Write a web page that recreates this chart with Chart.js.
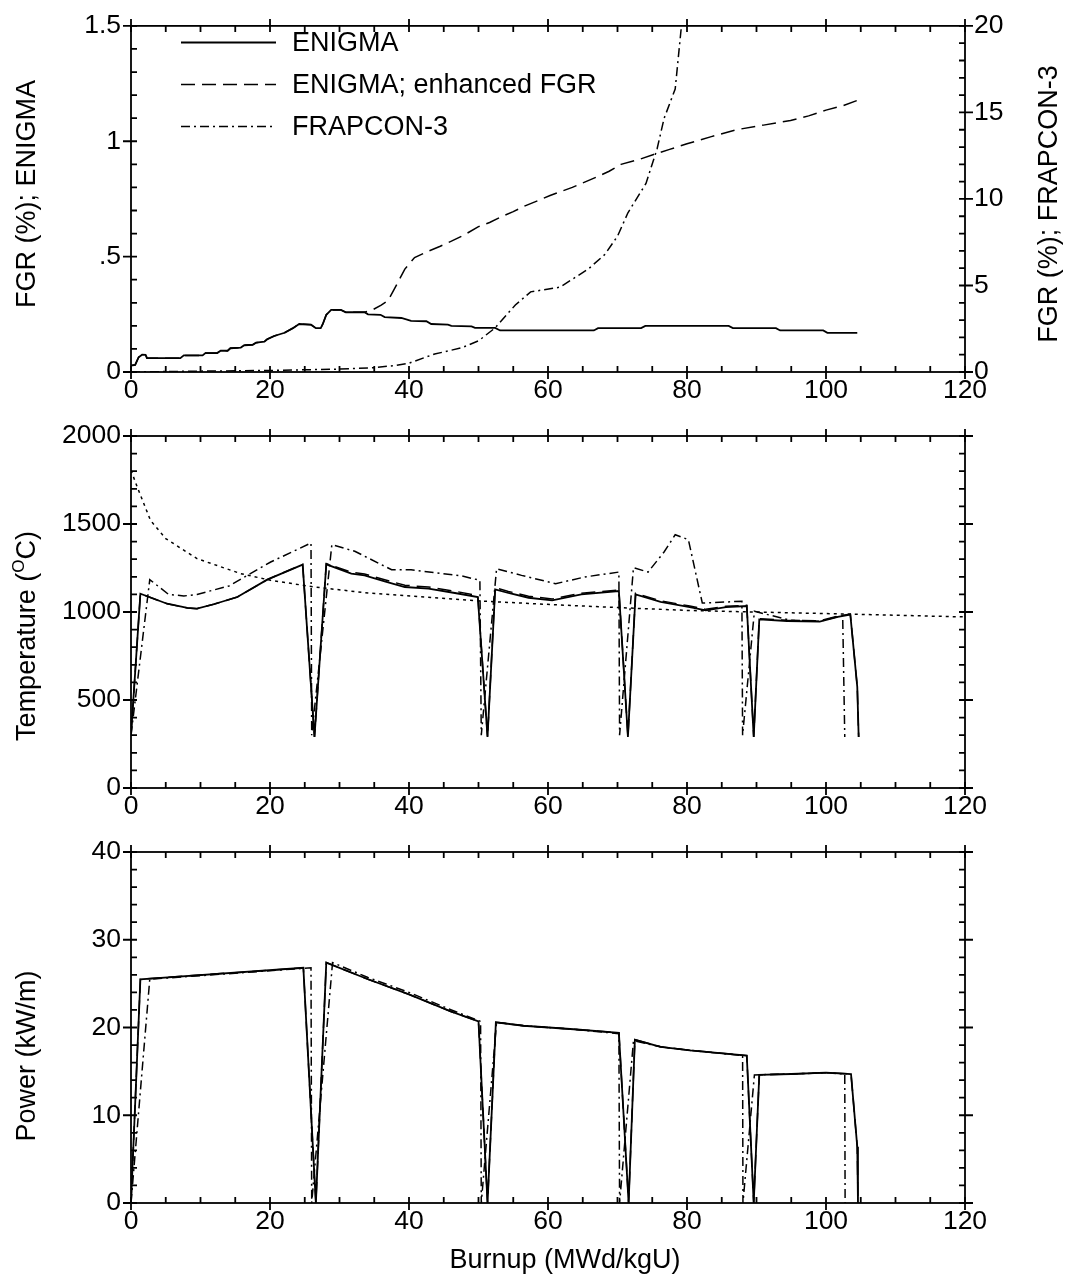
<!DOCTYPE html>
<html>
<head>
<meta charset="utf-8">
<script src="https://cdn.jsdelivr.net/npm/chart.js@4.4.0/dist/chart.umd.min.js"></script>
<style>
  html, body { margin: 0; padding: 0; background: #fff; }
  #page { position: relative; width: 1066px; height: 1277px; }
  .panel { position: absolute; left: 0; width: 1066px; }
</style>
</head>
<body>
<div id="page">
  <div class="panel" style="top:0;height:410px"><canvas id="fgr"></canvas></div>
  <div class="panel" style="top:410px;height:410px"><canvas id="temp"></canvas></div>
  <div class="panel" style="top:820px;height:457px"><canvas id="power"></canvas></div>
</div>
<script>
// ---------- data (burnup MWd/kgU, value) ----------
const fgrLeftTickValues = [0, 0.5, 1, 1.5];
const fgrLeftTickLabels = ['0', '.5', '1', '1.5'];

// FGR (%) ENIGMA, left axis
const fgrEnigma = [
  [0, 0.028], [0.6, 0.031], [1.1, 0.064], [1.6, 0.075], [2.1, 0.074], [2.3, 0.06], [7.1, 0.06],
  [7.6, 0.072], [10.3, 0.072], [10.7, 0.082], [12.4, 0.082], [12.9, 0.092], [13.9, 0.092],
  [14.3, 0.103], [15.8, 0.106], [16.3, 0.116], [17.5, 0.118], [18, 0.127], [19.2, 0.132],
  [19.6, 0.142], [20.6, 0.156], [22.1, 0.17], [23.3, 0.19], [24.2, 0.208], [25.9, 0.205],
  [26.6, 0.19], [27.3, 0.19], [27.6, 0.208], [28.1, 0.248], [28.8, 0.269], [30.2, 0.269],
  [30.9, 0.259], [33.6, 0.259], [34.1, 0.25], [35.9, 0.248], [36.5, 0.238], [38.9, 0.234],
  [40.3, 0.222], [42.5, 0.22], [43.2, 0.208], [45.6, 0.205], [46.1, 0.2], [49, 0.198],
  [49.5, 0.191], [52.4, 0.191], [53.1, 0.18], [66.6, 0.18], [67.2, 0.19], [73.4, 0.19],
  [74, 0.2], [86, 0.2], [86.6, 0.19], [92.8, 0.19], [93.4, 0.18], [99.6, 0.18], [100.2, 0.17],
  [104.5, 0.17],
];
// FGR (%) ENIGMA with enhanced FGR, left axis
const fgrEnhanced = [
  [0, 0.028], [0.6, 0.031], [1.1, 0.064], [1.6, 0.075], [2.1, 0.074], [2.3, 0.06], [7.1, 0.06],
  [7.6, 0.072], [10.3, 0.072], [10.7, 0.082], [12.4, 0.082], [12.9, 0.092], [13.9, 0.092],
  [14.3, 0.103], [15.8, 0.106], [16.3, 0.116], [17.5, 0.118], [18, 0.127], [19.2, 0.132],
  [19.6, 0.142], [20.6, 0.156], [22.1, 0.17], [23.3, 0.19], [24.2, 0.208], [25.9, 0.205],
  [26.6, 0.19], [27.3, 0.19], [27.6, 0.208], [28.1, 0.248], [28.8, 0.269], [30.2, 0.269],
  [30.9, 0.259], [33.6, 0.259], [34.8, 0.27], [36, 0.29], [37, 0.31], [37.9, 0.36],
  [39.4, 0.446], [40.8, 0.496], [42.8, 0.524], [44.5, 0.545], [46.1, 0.567], [48, 0.595],
  [50, 0.63], [51.6, 0.648], [53.3, 0.673], [55, 0.695], [56.7, 0.72], [58.5, 0.742],
  [60.3, 0.765], [63.5, 0.8], [66.9, 0.844], [68.8, 0.87], [70.5, 0.9], [73, 0.92],
  [75.2, 0.943], [77.5, 0.965], [80, 0.989], [83.5, 1.02], [87.1, 1.05], [91, 1.07],
  [94.9, 1.09], [97.5, 1.11], [100, 1.135], [102.5, 1.155], [104.5, 1.177],
];
// FGR (%) FRAPCON-3, right axis
const fgrFrapcon = [
  [0, 0], [10, 0.05], [20, 0.09], [29.3, 0.16], [35, 0.25], [38, 0.38], [40, 0.51],
  [43.7, 1.04], [47.6, 1.4], [50, 1.8], [52.4, 2.55], [55.3, 3.87], [57.5, 4.63],
  [61.7, 4.9], [65.8, 5.95], [68.2, 6.8], [70, 7.85], [71.5, 9.2], [74.1, 10.9],
  [75.7, 12.9], [76.7, 14.65], [78.3, 16.35], [79.2, 20],
];

// centre temperature (°C)
const tempEnigma = [
  [0, 300], [1.35, 1104], [5.2, 1047], [8.1, 1023], [9.5, 1019], [11.9, 1044], [15.3, 1085],
  [19.6, 1184], [24.7, 1269], [26.4, 290], [28.1, 1271], [31.7, 1218], [33.6, 1208],
  [36.5, 1174], [39.4, 1142], [42.8, 1133], [46.6, 1108], [49.9, 1085], [51.3, 290],
  [52.4, 1129], [54.3, 1108], [57.2, 1081], [60.6, 1066], [64.8, 1100], [70.2, 1119],
  [71.5, 290], [72.6, 1100], [76.2, 1057], [80.4, 1028], [82.7, 1009], [85.6, 1028],
  [88.6, 1034], [89.6, 290], [90.4, 958], [94.4, 949], [99.1, 945], [101.7, 972],
  [103.5, 985], [104.5, 574], [104.7, 290],
];
const tempEnhanced = [
  [0, 300], [1.35, 1104], [5.2, 1047], [8.1, 1023], [9.5, 1019], [11.9, 1044], [15.3, 1085],
  [19.6, 1184], [24.7, 1270], [26.4, 290], [28.1, 1275], [31.7, 1226], [33.6, 1216],
  [36.5, 1183], [39.4, 1152], [42.8, 1142], [46.6, 1118], [49.9, 1093], [51.3, 290],
  [52.4, 1138], [54.3, 1117], [57.2, 1090], [60.6, 1074], [64.8, 1107], [70.2, 1125],
  [71.5, 290], [72.6, 1106], [76.2, 1064], [80.4, 1034], [82.7, 1015], [85.6, 1033],
  [88.6, 1038], [89.6, 290], [90.4, 962], [94.4, 953], [99.1, 950], [101.7, 976],
  [103.5, 988], [104.5, 574], [104.7, 290],
];
const tempFrapcon = [
  [0, 300], [2.7, 1184], [5.4, 1100], [7.6, 1091], [9.5, 1100], [14.1, 1148], [20.1, 1284],
  [25.9, 1392], [26, 300], [28.9, 1383], [32.2, 1345], [37.5, 1240], [40.3, 1240],
  [47.6, 1205], [50.2, 1180], [50.4, 300], [52.6, 1246], [56.2, 1208], [61.1, 1161],
  [65.3, 1199], [70.2, 1227], [70.3, 300], [72.3, 1252], [74.4, 1227], [76.7, 1341],
  [78.3, 1439], [80.2, 1411], [82.2, 1051], [87.9, 1061], [88, 300], [89.7, 1004],
  [94.9, 953], [99.1, 947], [102.4, 981], [102.7, 290],
];
// threshold temperature curve (dotted)
const tempThreshold = [
  [0, 1805], [0.9, 1710], [2.8, 1521], [5, 1417], [9.5, 1303], [15.8, 1218], [20.1, 1180],
  [26.4, 1142], [34.1, 1108], [43.7, 1081], [51, 1061], [60.6, 1042], [70.2, 1025],
  [80, 1009], [89.7, 1000], [100, 991], [120, 972],
];

// linear power (kW/m)
const powerEnigma = [
  [0, 0], [1.35, 25.5], [24.8, 26.8], [26.6, 0], [28.1, 27.4], [34.1, 25.5], [39.9, 23.8],
  [46.1, 21.8], [50, 20.7], [51.3, 0], [52.5, 20.6], [56.5, 20.2], [63.7, 19.8], [70.2, 19.4],
  [71.6, 0], [72.5, 18.6], [76.2, 17.8], [80.4, 17.4], [88.6, 16.8], [89.6, 0], [90.4, 14.6],
  [95, 14.7], [100, 14.85], [103.6, 14.7], [104.5, 6.4], [104.6, 0],
];
const powerEnhanced = [
  [0, 0], [1.35, 25.5], [24.8, 26.8], [26.6, 0], [28.1, 27.4], [34.1, 25.5], [39.9, 23.8],
  [46.1, 21.8], [50, 20.7], [51.3, 0], [52.5, 20.6], [56.5, 20.2], [63.7, 19.8], [70.2, 19.4],
  [71.6, 0], [72.5, 18.6], [76.2, 17.8], [80.4, 17.4], [88.6, 16.8], [89.6, 0], [90.4, 14.6],
  [95, 14.7], [100, 14.85], [103.6, 14.7], [104.5, 6.4], [104.6, 0],
];
const powerFrapcon = [
  [0, 0], [2.7, 25.5], [25.9, 26.8], [26, 0], [29, 27.4], [34.1, 25.7], [40, 24], [46.1, 22],
  [50.3, 20.7], [50.4, 0], [52.6, 20.6], [56.5, 20.2], [63.7, 19.8], [70.2, 19.3], [70.3, 0],
  [72.3, 18.5], [76.2, 17.8], [80.4, 17.4], [88, 16.8], [88.05, 0], [89.7, 14.6], [95, 14.7],
  [100, 14.85], [102.7, 14.7], [102.75, 0],
];

const seriesLabels = ['ENIGMA', 'ENIGMA; enhanced FGR', 'FRAPCON-3'];

// ---------- styles ----------
const FONT = '"Liberation Sans", Arial, Helvetica, sans-serif';
const tickFont = { family: FONT, size: 26.5 };
const TITLE_SIZE = 27;
const DASH = [14, 7];
const DASHDOT = [9, 4, 2, 4];
const DOT = [3, 4];

const pts = (arr) => arr.map(([x, y]) => ({ x, y }));

const line = (label, data, dash, width, extra) => ({
  label,
  data: pts(data),
  showLine: true,
  borderColor: '#000',
  backgroundColor: '#000',
  borderWidth: width,
  borderDash: dash,
  pointRadius: 0,
  tension: 0,
  fill: false,
  ...extra,
});

// frame around the plot + inner/outer tick marks on all four sides
const frameTicks = {
  id: 'frameTicks',
  afterDatasetsDraw(chart, args, opts) {
    const { ctx, chartArea: { left, right, top, bottom } } = chart;
    const each = (scale, minor, major, fn) => {
      const n = Math.round((scale.max - scale.min) / minor);
      for (let i = 0; i <= n; i += 1) {
        const v = scale.min + i * minor;
        const r = v / major;
        fn(scale.getPixelForValue(v), Math.abs(r - Math.round(r)) < 1e-6);
      }
    };
    ctx.save();
    ctx.strokeStyle = '#000';
    ctx.lineWidth = 1.8;
    ctx.setLineDash([]);
    ctx.strokeRect(left, top, right - left, bottom - top);
    ctx.beginPath();
    each(chart.scales.x, opts.xMinor, opts.xMajor, (p, big) => {
      ctx.moveTo(p, bottom + (big ? 7 : 0)); ctx.lineTo(p, bottom - 6);
      ctx.moveTo(p, top - (big ? 7 : 0)); ctx.lineTo(p, top + 6);
    });
    each(chart.scales.y, opts.yMinor, opts.yMajor, (p, big) => {
      ctx.moveTo(left - (big ? 8 : 0), p); ctx.lineTo(left + 6, p);
      if (!opts.right) { ctx.moveTo(right + (big ? 8 : 0), p); ctx.lineTo(right - 6, p); }
    });
    if (opts.right) {
      each(chart.scales[opts.right.id], opts.right.minor, opts.right.major, (p, big) => {
        ctx.moveTo(right + (big ? 8 : 0), p); ctx.lineTo(right - 6, p);
      });
    }
    ctx.stroke();
    ctx.restore();
  },
};

// axis titles (left one reads bottom-to-top, as does the right one in the original)
const axisTitles = {
  id: 'axisTitles',
  afterDraw(chart, args, opts) {
    const { ctx } = chart;
    (opts.items || []).forEach((it) => {
      const parts = it.parts || [{ text: it.text }];
      ctx.save();
      ctx.translate(it.x, it.y);
      ctx.rotate(it.rotation || 0);
      ctx.fillStyle = '#000';
      ctx.textBaseline = 'alphabetic';
      ctx.textAlign = 'left';
      let w = 0;
      parts.forEach((p) => { ctx.font = `${p.size || TITLE_SIZE}px ${FONT}`; w += ctx.measureText(p.text).width; });
      let cx = -w / 2;
      parts.forEach((p) => {
        ctx.font = `${p.size || TITLE_SIZE}px ${FONT}`;
        ctx.fillText(p.text, cx, 9.6 - (p.rise || 0));
        cx += ctx.measureText(p.text).width;
      });
      ctx.restore();
    });
  },
};

// legend drawn inside the plot area with line samples
const lineLegend = {
  id: 'lineLegend',
  afterDraw(chart, args, opts) {
    if (!opts.show) return;
    const { ctx } = chart;
    chart.data.datasets.slice(0, 3).forEach((ds, i) => {
      const y = opts.y + i * opts.rowGap;
      ctx.save();
      ctx.strokeStyle = '#000';
      ctx.lineWidth = ds.borderWidth;
      ctx.setLineDash(ds.borderDash || []);
      ctx.beginPath();
      ctx.moveTo(opts.x, y);
      ctx.lineTo(opts.x + opts.len, y);
      ctx.stroke();
      ctx.font = `${TITLE_SIZE}px ${FONT}`;
      ctx.fillStyle = '#000';
      ctx.textBaseline = 'middle';
      ctx.fillText(ds.label, opts.x + opts.len + 16, y + 1.5);
      ctx.restore();
    });
  },
};

const plainNumber = (v) => String(v);

const xScale = (h) => ({
  type: 'linear',
  min: 0,
  max: 120,
  ticks: { stepSize: 20, padding: 3, color: '#000', font: tickFont, maxRotation: 0, autoSkip: false, callback: plainNumber },
  grid: { display: false, drawTicks: false },
  border: { display: false },
  afterFit(s) { s.height = h; },
});

const yScale = (min, max, step, callback) => ({
  type: 'linear',
  position: 'left',
  min,
  max,
  ticks: { stepSize: step, padding: 10, color: '#000', font: tickFont, callback: callback || plainNumber },
  grid: { display: false, drawTicks: false },
  border: { display: false },
  afterFit(s) { s.width = 131; },
});

const base = (padding) => ({
  responsive: true,
  maintainAspectRatio: false,
  animation: false,
  layout: { padding },
  plugins: { legend: { display: false }, tooltip: { enabled: false } },
});

// ---------- panel 1: FGR ----------
const fgrOptions = base({ top: 19, right: 0, bottom: 0, left: 0 });
fgrOptions.scales = {
  x: xScale(38),
  y: yScale(0, 1.5, 0.5, (v) => fgrLeftTickLabels[fgrLeftTickValues.indexOf(v)]),
  y1: {
    type: 'linear',
    position: 'right',
    min: 0,
    max: 20,
    ticks: { stepSize: 5, padding: 9, color: '#000', font: tickFont, callback: plainNumber },
    grid: { display: false, drawTicks: false },
    border: { display: false },
    afterFit(s) { s.width = 101; },
  },
};
fgrOptions.plugins.frameTicks = { xMinor: 5, xMajor: 20, yMinor: 0.1, yMajor: 0.5, right: { id: 'y1', minor: 1, major: 5 } };
fgrOptions.plugins.lineLegend = { show: true, x: 181, y: 42.5, rowGap: 42, len: 95 };
fgrOptions.plugins.axisTitles = {
  items: [
    { text: 'FGR (%); ENIGMA', x: 25, y: 194, rotation: -Math.PI / 2 },
    { text: 'FGR (%); FRAPCON-3', x: 1047, y: 204, rotation: -Math.PI / 2 },
  ],
};

new Chart(document.getElementById('fgr'), {
  type: 'scatter',
  data: {
    datasets: [
      line(seriesLabels[0], fgrEnigma, [], 1.8, { yAxisID: 'y' }),
      line(seriesLabels[1], fgrEnhanced, DASH, 1.5, { yAxisID: 'y' }),
      line(seriesLabels[2], fgrFrapcon, DASHDOT, 1.5, { yAxisID: 'y1' }),
    ],
  },
  options: fgrOptions,
  plugins: [frameTicks, axisTitles, lineLegend],
});

// ---------- panel 2: temperature ----------
const tempOptions = base({ top: 26, right: 101, bottom: 0, left: 0 });
tempOptions.scales = { x: xScale(32), y: yScale(0, 2000, 500) };
tempOptions.plugins.frameTicks = { xMinor: 5, xMajor: 20, yMinor: 100, yMajor: 500 };
tempOptions.plugins.axisTitles = {
  items: [{
    parts: [{ text: 'Temperature (' }, { text: 'O', size: 17, rise: 11 }, { text: 'C)' }],
    x: 25, y: 226, rotation: -Math.PI / 2,
  }],
};

new Chart(document.getElementById('temp'), {
  type: 'scatter',
  data: {
    datasets: [
      line(seriesLabels[0], tempEnigma, [], 1.8),
      line(seriesLabels[1], tempEnhanced, DASH, 1.5),
      line(seriesLabels[2], tempFrapcon, DASHDOT, 1.5),
      line('threshold', tempThreshold, DOT, 1.5),
    ],
  },
  options: tempOptions,
  plugins: [frameTicks, axisTitles],
});

// ---------- panel 3: power ----------
const powerOptions = base({ top: 32, right: 101, bottom: 0, left: 0 });
powerOptions.scales = { x: xScale(74), y: yScale(0, 40, 10) };
powerOptions.plugins.frameTicks = { xMinor: 5, xMajor: 20, yMinor: 2, yMajor: 10 };
powerOptions.plugins.axisTitles = {
  items: [
    { text: 'Power (kW/m)', x: 25, y: 236, rotation: -Math.PI / 2 },
    { text: 'Burnup (MWd/kgU)', x: 565, y: 438 },
  ],
};

new Chart(document.getElementById('power'), {
  type: 'scatter',
  data: {
    datasets: [
      line(seriesLabels[0], powerEnigma, [], 1.8),
      line(seriesLabels[1], powerEnhanced, DASH, 1.5),
      line(seriesLabels[2], powerFrapcon, DASHDOT, 1.5),
    ],
  },
  options: powerOptions,
  plugins: [frameTicks, axisTitles],
});
</script>
</body>
</html>
